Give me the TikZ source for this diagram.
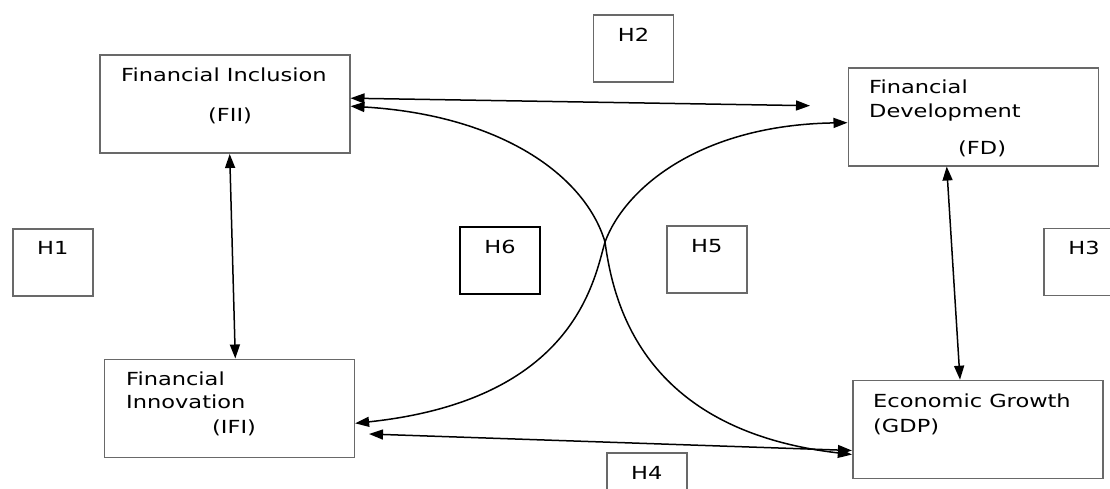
\documentclass[tikz,border=0pt]{standalone}
\usepackage{fontspec}
\usepackage{graphicx}
\setmainfont{DejaVu Sans}
\usetikzlibrary{arrows.meta}
\definecolor{boxgray}{RGB}{105,105,105}
\newcommand{\wide}[1]{\scalebox{1.25}[1]{#1}}

\begin{document}
\begin{tikzpicture}[x=1pt,y=-1pt,
    every node/.style={inner sep=0pt},
    bigbox/.style={draw=boxgray, line width=1.6pt, minimum width=250pt, minimum height=98pt},
    hbox/.style={draw=boxgray, line width=1.6pt, minimum width=80pt, inner xsep=0pt, inner ysep=13pt,
      text height=13pt, text depth=28pt, font=\fontsize{18}{24}\selectfont},
    lbl/.style={anchor=base west, font=\fontsize{18}{24}\selectfont},
    link/.style={black, line width=1.5pt, <->, >={Triangle[length=14pt,width=10pt]}}]
  \fill [white] (0,0) rectangle (1110,488);
  \useasboundingbox (0,0) rectangle (1110,488);
  % the four constructs
  \node [bigbox] (fii) at (224.7,104.2) {};
  \node [bigbox] (fd) at (973.3,116.7) {};
  \node [bigbox] (ifi) at (229.3,408.3) {};
  \node [bigbox] (gdp) at (977.7,429.5) {};
  \node [lbl] (fiiname) at (121,81) {\wide{Financial Inclusion}};
  \node [lbl] (fiiabbr) at (208,121) {\wide{(FII)}};
  \node [lbl] (fdname) at (869,93) {\wide{Financial}};
  \node [lbl] (fdnametwo) at (869,117) {\wide{Development}};
  \node [lbl] (fdabbr) at (958,154) {\wide{(FD)}};
  \node [lbl] (ifiname) at (126,385) {\wide{Financial}};
  \node [lbl] (ifinametwo) at (126,408) {\wide{Innovation}};
  \node [lbl] (ifiabbr) at (212,433) {\wide{(IFI)}};
  \node [lbl] (gdpname) at (873,407) {\wide{Economic Growth}};
  \node [lbl] (gdpabbr) at (873,432) {\wide{(GDP)}};
  % hypotheses
  \node [hbox] (h1) at (52.7,262.4) {\wide{H1}};
  \node [hbox] (h2) at (633.5,48.5) {\wide{H2}};
  \node [hbox] (h3) at (1084,262) {\wide{H3}};
  \node [hbox] (h4) at (646.7,486.5) {\wide{H4}};
  \node [hbox] (h5) at (706.7,259.5) {\wide{H5}};
  \node [hbox, draw=black, line width=1.2pt] (h6) at (500,260.5) {\wide{H6}};
  % links
  \coordinate (fdtip) at (810,105.7);
  \coordinate (ifitip) at (369,434);
  \coordinate (cross) at (605,242);
  \draw [link] ([yshift=6pt]fii.east) -- (fdtip);
  \draw [link] ([xshift=5pt]fii.south) -- ([xshift=6pt]ifi.north);
  \draw [link] ([xshift=-26.6pt]fd.south) -- ([xshift=-17.7pt]gdp.north);
  \draw [link] (ifitip) -- ([yshift=-21pt]gdp.west);
  \draw [link] ([yshift=-2pt]fii.east) .. controls (500,115) and (585,175) .. (cross)
    .. controls (613,300) and (640,430) .. ([yshift=-25pt]gdp.west);
  \draw [link] ([yshift=-15pt]ifi.east) .. controls (575,400) and (594,280) .. (cross)
    .. controls (625,188) and (700,125) .. ([yshift=-6pt]fd.west);
\end{tikzpicture}
\end{document}
